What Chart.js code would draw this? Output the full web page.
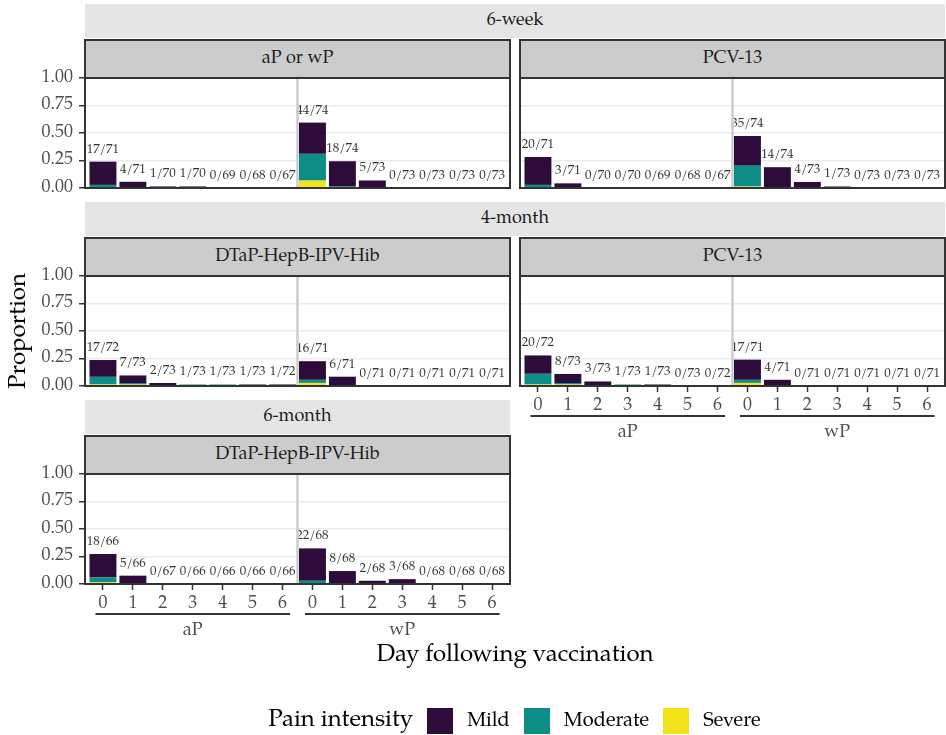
<!DOCTYPE html>
<html>
<head>
<meta charset="utf-8">
<script src="https://cdn.jsdelivr.net/npm/chart.js@4.4.1/dist/chart.umd.min.js"></script>
<style>
  body { margin: 0; background: #fff; }
  #fig { position: relative; width: 946px; height: 735px; overflow: hidden;
         font-family: P052, 'TeX Gyre Pagella', 'Palatino Linotype', Palatino, 'Liberation Serif', serif; }
  #fig canvas { position: absolute; left: 0; top: 0; pointer-events: none; }
  .strip { position: absolute; display: flex; align-items: center; justify-content: center;
           box-sizing: border-box; font-size: 18px; color: #1a1a1a; }
  .outer { background: #e5e5e5; }
  .inner { background: #cccccc; border: 2px solid #333; }
  .title { position: absolute; font-size: 24px; color: #000; white-space: nowrap; }
  #legend { position: absolute; left: 84px; width: 861px; top: 708px; height: 26px;
            display: flex; align-items: center; justify-content: center; }
  #legend .lt { font-size: 24px; margin-right: 14px; }
  #legend .key { width: 26px; height: 26px; margin-right: 14px; }
  #legend .lab { font-size: 20px; margin-right: 14px; color: #000; }
  #legend .lab:last-child { margin-right: 0; }
</style>
</head>
<body>
<div id="fig"></div>
<script>
const FONT = "P052, 'TeX Gyre Pagella', 'Palatino Linotype', Palatino, 'Liberation Serif', serif";

// x positions: aP days 0-6, then wP days 0-6
const xCats = [0, 1, 2, 3, 4, 5, 6, 7, 8, 9, 10, 11, 12, 13];
const dayLabels = ['0', '1', '2', '3', '4', '5', '6', '0', '1', '2', '3', '4', '5', '6'];
const groupNames = ['aP', 'wP'];
const yTicks = [0, 0.25, 0.5, 0.75, 1];
const painLevels = ['Mild', 'Moderate', 'Severe'];
const painColors = ['#2d0b3a', '#0e8c86', '#f4e21b'];

// 6-week, aP or wP (counts of children with pain, by intensity, and number assessed)
const wk6PertMild     = [15, 4, 1, 1, 0, 0, 0,  21, 17, 5, 0, 0, 0, 0];
const wk6PertModerate = [ 2, 0, 0, 0, 0, 0, 0,  18,  1, 0, 0, 0, 0, 0];
const wk6PertSevere   = [ 0, 0, 0, 0, 0, 0, 0,   5,  0, 0, 0, 0, 0, 0];
const wk6PertTotal    = [71, 71, 70, 70, 69, 68, 67,  74, 74, 73, 73, 73, 73, 73];

// 6-week, PCV-13
const wk6PcvMild      = [18, 3, 0, 0, 0, 0, 0,  20, 14, 4, 1, 0, 0, 0];
const wk6PcvModerate  = [ 2, 0, 0, 0, 0, 0, 0,  14,  0, 0, 0, 0, 0, 0];
const wk6PcvSevere    = [ 0, 0, 0, 0, 0, 0, 0,   1,  0, 0, 0, 0, 0, 0];
const wk6PcvTotal     = [71, 71, 70, 70, 69, 68, 67,  74, 74, 73, 73, 73, 73, 73];

// 4-month, DTaP-HepB-IPV-Hib
const mo4HexaMild     = [11, 5, 2, 0, 0, 1, 1,  12, 6, 0, 0, 0, 0, 0];
const mo4HexaModerate = [ 5, 1, 0, 1, 1, 0, 0,   2, 0, 0, 0, 0, 0, 0];
const mo4HexaSevere   = [ 1, 1, 0, 0, 0, 0, 0,   2, 0, 0, 0, 0, 0, 0];
const mo4HexaTotal    = [72, 73, 73, 73, 73, 73, 72,  71, 71, 71, 71, 71, 71, 71];

// 4-month, PCV-13
const mo4PcvMild      = [12, 6, 3, 0, 1, 0, 0,  13, 4, 0, 0, 0, 0, 0];
const mo4PcvModerate  = [ 7, 1, 0, 1, 0, 0, 0,   2, 0, 0, 0, 0, 0, 0];
const mo4PcvSevere    = [ 1, 1, 0, 0, 0, 0, 0,   2, 0, 0, 0, 0, 0, 0];
const mo4PcvTotal     = [72, 73, 73, 73, 73, 73, 72,  71, 71, 71, 71, 71, 71, 71];

// 6-month, DTaP-HepB-IPV-Hib
const mo6HexaMild     = [14, 5, 0, 0, 0, 0, 0,  20, 8, 2, 3, 0, 0, 0];
const mo6HexaModerate = [ 3, 0, 0, 0, 0, 0, 0,   2, 0, 0, 0, 0, 0, 0];
const mo6HexaSevere   = [ 1, 0, 0, 0, 0, 0, 0,   0, 0, 0, 0, 0, 0, 0];
const mo6HexaTotal    = [66, 66, 67, 66, 66, 66, 66,  68, 68, 68, 68, 68, 68, 68];

const rowNames = ['6-week', '4-month', '6-month'];

const panels = [
  { row: 0, col: 0, name: 'aP or wP', mild: wk6PertMild, moderate: wk6PertModerate, severe: wk6PertSevere, total: wk6PertTotal, yAxis: true, xAxis: false },
  { row: 0, col: 1, name: 'PCV-13', mild: wk6PcvMild, moderate: wk6PcvModerate, severe: wk6PcvSevere, total: wk6PcvTotal, yAxis: false, xAxis: false },
  { row: 1, col: 0, name: 'DTaP-HepB-IPV-Hib', mild: mo4HexaMild, moderate: mo4HexaModerate, severe: mo4HexaSevere, total: mo4HexaTotal, yAxis: true, xAxis: false },
  { row: 1, col: 1, name: 'PCV-13', mild: mo4PcvMild, moderate: mo4PcvModerate, severe: mo4PcvSevere, total: mo4PcvTotal, yAxis: false, xAxis: true },
  { row: 2, col: 0, name: 'DTaP-HepB-IPV-Hib', mild: mo6HexaMild, moderate: mo6HexaModerate, severe: mo6HexaSevere, total: mo6HexaTotal, yAxis: true, xAxis: true }
];

// layout
const W = 946, H = 735;
const rowTop = [4, 202, 400];
const colL = [85, 520];
const colR = [510, 945];
const outerH = 34, innerTop = 36, plotTop = 74, plotH = 110;
const yAxisW = 70, xAxisH = 40;

const fig = document.getElementById('fig');
Chart.defaults.font.family = FONT;

function addDiv(cls, text, left, top, width, height) {
  const d = document.createElement('div');
  d.className = cls;
  d.textContent = text;
  d.style.left = left + 'px';
  d.style.top = top + 'px';
  if (width !== null) d.style.width = width + 'px';
  if (height !== null) d.style.height = height + 'px';
  fig.appendChild(d);
  return d;
}

// row strips
rowNames.forEach((name, r) => {
  const right = r === 2 ? colR[0] : colR[1];
  addDiv('strip outer', name, colL[0], rowTop[r], right - colL[0], outerH);
});
// panel strips
panels.forEach(p => {
  const L = colL[p.col], R = colR[p.col];
  addDiv('strip inner', p.name, L - 1, rowTop[p.row] + innerTop - 1, R - L + 2, plotTop - innerTop + 2);
});

function makeDecor(p) {
  return {
    id: 'decor',
    afterDatasetsDraw(chart) {
      const ctx = chart.ctx, a = chart.chartArea;
      const x = chart.scales.x, y = chart.scales.y;
      ctx.save();
      ctx.beginPath();
      ctx.rect(a.left, a.top, a.right - a.left, a.bottom - a.top);
      ctx.clip();
      ctx.font = '13px ' + FONT;
      ctx.fillStyle = '#333333';
      ctx.textAlign = 'center';
      ctx.textBaseline = 'alphabetic';
      xCats.forEach(i => {
        const n = p.mild[i] + p.moderate[i] + p.severe[i];
        const top = y.getPixelForValue(n / p.total[i]);
        ctx.fillText(n + '/' + p.total[i], x.getPixelForValue(i), top - 9);
      });
      // aP | wP separator
      const sx = x.getPixelForValue(6.5);
      ctx.strokeStyle = '#cccccc';
      ctx.lineWidth = 2.5;
      ctx.beginPath();
      ctx.moveTo(sx, a.top);
      ctx.lineTo(sx, a.bottom);
      ctx.stroke();
      ctx.restore();

      ctx.save();
      ctx.strokeStyle = '#333333';
      ctx.lineWidth = 2;
      ctx.strokeRect(a.left, a.top, a.right - a.left, a.bottom - a.top);
      ctx.restore();
    },
    afterDraw(chart) {
      if (!p.xAxis) return;
      const ctx = chart.ctx, a = chart.chartArea, x = chart.scales.x;
      ctx.save();
      groupNames.forEach((g, k) => {
        const x0 = x.getPixelForValue(k * 7 - 0.25);
        const x1 = x.getPixelForValue(k * 7 + 6.25);
        ctx.strokeStyle = '#333333';
        ctx.lineWidth = 2;
        ctx.beginPath();
        ctx.moveTo(x0, a.bottom + 30);
        ctx.lineTo(x1, a.bottom + 30);
        ctx.stroke();
        ctx.font = '18px ' + FONT;
        ctx.fillStyle = '#4d4d4d';
        ctx.textAlign = 'center';
        ctx.textBaseline = 'middle';
        ctx.fillText(g, (x0 + x1) / 2, a.bottom + 47);
      });
      ctx.restore();
    }
  };
}

panels.forEach(p => {
  const canvas = document.createElement('canvas');
  canvas.width = W;
  canvas.height = H;
  fig.appendChild(canvas);

  const L = colL[p.col], R = colR[p.col];
  const T = rowTop[p.row] + plotTop, B = T + plotH;
  const yw = p.yAxis ? yAxisW : 0;
  const xh = p.xAxis ? xAxisH : 0;
  const series = [p.severe, p.moderate, p.mild];
  const colors = [painColors[2], painColors[1], painColors[0]];
  const names = [painLevels[2], painLevels[1], painLevels[0]];

  new Chart(canvas, {
    type: 'bar',
    data: {
      datasets: series.map((s, k) => ({
        label: names[k],
        data: xCats.map(i => ({ x: i, y: s[i] / p.total[i] })),
        backgroundColor: colors[k],
        borderWidth: 0,
        grouped: false,
        categoryPercentage: 1,
        barPercentage: 0.9
      }))
    },
    options: {
      responsive: false,
      animation: false,
      devicePixelRatio: 1,
      events: [],
      layout: { autoPadding: false, padding: { left: L - yw, top: T, right: W - R, bottom: H - B - xh } },
      plugins: { legend: { display: false }, tooltip: { enabled: false } },
      scales: {
        x: {
          type: 'linear',
          min: -0.6,
          max: 13.6,
          offset: false,
          stacked: true,
          display: p.xAxis,
          afterBuildTicks: s => { s.ticks = xCats.map(v => ({ value: v })); },
          afterFit: s => { s.height = xh; },
          border: { display: false },
          grid: { offset: false, drawOnChartArea: false, drawTicks: true, tickLength: 6, tickColor: '#333333', tickWidth: 1.5 },
          ticks: {
            padding: 3,
            maxRotation: 0,
            autoSkip: false,
            color: '#4d4d4d',
            font: { size: 18 },
            callback: (v, i) => dayLabels[i]
          }
        },
        y: {
          min: 0,
          max: 1,
          stacked: true,
          afterBuildTicks: s => { s.ticks = yTicks.map(v => ({ value: v })); },
          afterFit: s => { s.width = yw; },
          border: { display: false },
          grid: { color: '#ebebeb', lineWidth: 1.5, drawTicks: p.yAxis, tickLength: 6, tickColor: '#333333', tickWidth: 1.5 },
          ticks: {
            display: p.yAxis,
            padding: 6,
            color: '#4d4d4d',
            font: { size: 18 },
            callback: v => v.toFixed(2)
          }
        }
      }
    },
    plugins: [makeDecor(p)]
  });
});

// axis titles
const yt = addDiv('title', 'Proportion', 20, 331, null, null);
yt.style.transform = 'translate(-50%, -50%) rotate(-90deg)';
const xt = addDiv('title', 'Day following vaccination', 515, 656, null, null);
xt.style.transform = 'translate(-50%, -50%)';

// legend
const lg = document.createElement('div');
lg.id = 'legend';
const lt = document.createElement('span');
lt.className = 'lt';
lt.textContent = 'Pain intensity';
lg.appendChild(lt);
painLevels.forEach((name, k) => {
  const key = document.createElement('span');
  key.className = 'key';
  key.style.background = painColors[k];
  lg.appendChild(key);
  const lab = document.createElement('span');
  lab.className = 'lab';
  lab.textContent = name;
  lg.appendChild(lab);
});
fig.appendChild(lg);
</script>
</body>
</html>
